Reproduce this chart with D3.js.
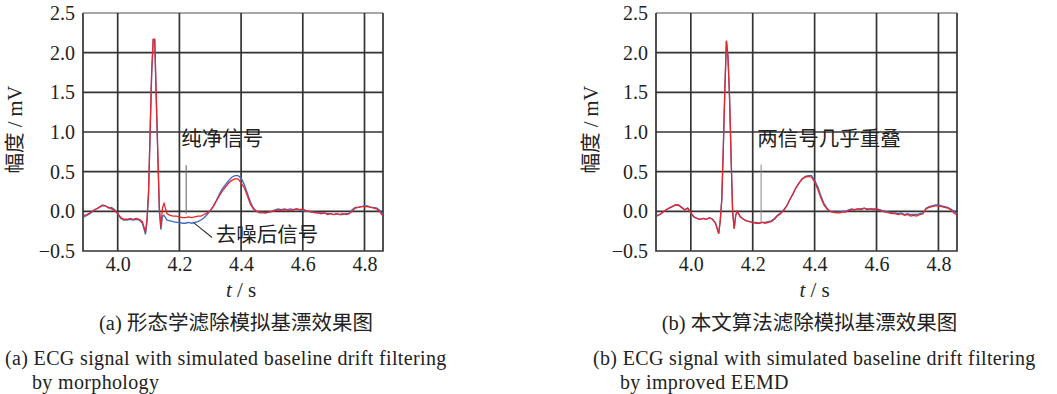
<!DOCTYPE html>
<html><head><meta charset="utf-8">
<script src="https://cdn.jsdelivr.net/npm/d3@7"></script>
<style>body{margin:0;background:#fff}</style>
</head><body>
<svg id="c" width="1057" height="394"></svg>
<script>
const time = [3.89,3.90,3.91,3.92,3.93,3.94,3.95,3.96,3.97,3.98,3.99,4.00,4.01,4.02,4.03,4.04,4.05,4.06,4.07,4.08,4.09,
4.095,4.10,4.105,4.11,4.115,4.12,4.125,4.13,4.135,4.14,4.145,4.15,
4.16,4.17,4.18,4.19,4.20,4.21,4.22,4.23,4.24,4.25,4.26,4.27,4.28,4.29,
4.30,4.31,4.32,4.33,4.34,4.35,4.36,4.37,4.38,4.39,4.40,4.41,4.42,4.43,4.44,4.45,
4.46,4.47,4.48,4.49,4.50,4.51,4.52,4.53,4.54,4.55,
4.56,4.57,4.58,4.59,4.60,4.61,4.62,4.63,4.64,4.65,
4.66,4.67,4.68,4.69,4.70,4.71,4.72,4.73,4.74,4.75,
4.76,4.77,4.78,4.79,4.80,4.81,4.82,4.83,4.84,4.85,4.86];

const leftClean = [-0.05,-0.04,-0.02,0.01,0.03,0.05,0.07,0.07,0.05,0.03,0.01,-0.03,-0.08,-0.10,-0.10,-0.09,-0.10,-0.09,-0.10,-0.13,-0.26,
-0.10,0.25,1.00,1.75,2.17,2.17,1.45,0.75,0.05,-0.20,0.04,0.10,
-0.03,-0.05,-0.06,-0.06,-0.07,-0.08,-0.08,-0.07,-0.08,-0.07,-0.06,-0.06,-0.04,-0.02,
0.01,0.06,0.13,0.20,0.26,0.31,0.36,0.39,0.41,0.41,0.36,0.30,0.20,0.09,0.03,0.00,
-0.01,-0.01,-0.02,-0.01,0.00,0.01,0.02,0.01,0.02,0.02,
0.01,0.02,0.03,0.02,0.03,0.01,0.00,-0.01,-0.02,-0.02,
-0.03,-0.02,-0.04,-0.03,-0.04,-0.03,-0.04,-0.03,-0.04,-0.03,
0.00,0.04,0.05,0.06,0.06,0.06,0.05,0.04,0.03,-0.01,-0.06];

const leftDenoised = [-0.07,-0.05,-0.03,0.00,0.03,0.05,0.08,0.07,0.04,0.05,0.02,-0.03,-0.09,-0.11,-0.11,-0.10,-0.11,-0.10,-0.11,-0.15,-0.29,
-0.12,0.22,0.97,1.72,2.16,2.15,1.40,0.70,0.00,-0.23,-0.06,-0.05,
-0.11,-0.12,-0.13,-0.14,-0.14,-0.15,-0.15,-0.14,-0.15,-0.14,-0.13,-0.11,-0.08,-0.04,
0.01,0.07,0.14,0.22,0.29,0.34,0.39,0.43,0.45,0.45,0.42,0.34,0.23,0.12,0.04,0.00,
-0.02,-0.02,-0.02,-0.01,0.00,0.02,0.03,0.02,0.03,0.02,
0.03,0.02,0.03,0.02,0.01,0.00,0.00,-0.01,-0.01,-0.02,
-0.02,-0.02,-0.03,-0.03,-0.04,-0.03,-0.04,-0.04,-0.03,-0.03,
0.02,0.05,0.05,0.06,0.07,0.07,0.05,0.05,0.04,0.01,-0.04];

const rightClean = [-0.05,-0.04,-0.01,0.02,0.04,0.06,0.08,0.08,0.05,0.02,0.04,-0.02,-0.07,-0.09,-0.10,-0.09,-0.10,-0.08,-0.10,-0.15,-0.28,
-0.12,0.15,0.80,1.55,2.15,1.95,1.45,0.70,0.00,-0.22,-0.05,0.00,
-0.07,-0.10,-0.12,-0.13,-0.14,-0.15,-0.15,-0.14,-0.15,-0.14,-0.13,-0.10,-0.06,-0.03,
0.01,0.07,0.15,0.22,0.30,0.36,0.41,0.43,0.44,0.43,0.37,0.28,0.17,0.08,0.03,0.00,
-0.01,-0.02,-0.02,-0.01,-0.01,0.01,0.02,0.02,0.03,0.02,
0.04,0.02,0.03,0.02,0.03,0.01,0.00,-0.01,-0.02,-0.03,
-0.03,-0.04,-0.03,-0.05,-0.04,-0.06,-0.05,-0.06,-0.04,-0.03,
0.03,0.05,0.06,0.07,0.07,0.06,0.05,0.04,0.02,-0.02,-0.05];

const rightDenoised = [-0.06,-0.04,-0.01,0.02,0.04,0.06,0.08,0.08,0.05,0.02,0.04,-0.02,-0.07,-0.09,-0.10,-0.09,-0.10,-0.08,-0.10,-0.15,-0.28,
-0.12,0.15,0.80,1.55,2.15,1.95,1.45,0.70,0.00,-0.22,-0.05,0.00,
-0.07,-0.10,-0.12,-0.13,-0.14,-0.14,-0.15,-0.14,-0.14,-0.13,-0.12,-0.09,-0.05,-0.02,
0.02,0.07,0.15,0.22,0.30,0.36,0.41,0.44,0.45,0.45,0.39,0.31,0.20,0.10,0.04,0.00,
-0.01,-0.01,-0.01,0.00,0.00,0.02,0.03,0.02,0.03,0.03,
0.04,0.03,0.03,0.03,0.03,0.02,0.01,0.00,-0.01,-0.02,
-0.02,-0.03,-0.02,-0.04,-0.03,-0.04,-0.04,-0.04,-0.03,-0.02,
0.04,0.06,0.07,0.08,0.08,0.07,0.06,0.05,0.03,0.00,-0.03];

const xTicks = [4.0, 4.2, 4.4, 4.6, 4.8];
const yTicks = [-0.5, 0.0, 0.5, 1.0, 1.5, 2.0, 2.5];
const xDomain = [3.8875, 4.86];
const yDomain = [-0.5, 2.5];
const xLabel = "t / s";
const yLabel = "幅度 / mV";
const titlesCN = ["(a) 形态学滤除模拟基漂效果图", "(b) 本文算法滤除模拟基漂效果图"];
const titlesEN1 = ["(a) ECG signal with simulated baseline drift filtering", "(b) ECG signal with simulated baseline drift filtering"];
const titlesEN2 = ["by morphology", "by improved EEMD"];

const SERIF = "'Liberation Serif','Times New Roman',serif";
const MIX = "'Liberation Serif','Noto Sans CJK SC',serif";
const CJK = "'Noto Sans CJK SC','Liberation Serif',sans-serif";
const RED = "#e8252c", BLUE = "#3b69c6", GRID = "#333333";

const svg = d3.select("#c");
svg.append("rect").attr("width",1057).attr("height",394).attr("fill","#fff");

const panels = [
  {left:83, width:300, clean:leftClean, den:leftDenoised, cap:0, ylabX:15, enX:5, en2X:32},
  {left:656, width:301, clean:rightClean, den:rightDenoised, cap:1, ylabX:591, enX:593, en2X:620}
];
const plotTop = 13, plotBottom = 251;

panels.forEach((p, i) => {
  const x = d3.scaleLinear().domain(xDomain).range([p.left, p.left + p.width]);
  const y = d3.scaleLinear().domain(yDomain).range([plotBottom, plotTop]);
  const g = svg.append("g");

  g.append("g").selectAll("line").data(yTicks.slice(1)).join("line")
    .attr("x1", p.left).attr("x2", p.left + p.width)
    .attr("y1", d => y(d)).attr("y2", d => y(d))
    .attr("stroke", d => d === 2.5 ? "#8a8a8a" : GRID).attr("stroke-width", 1.7);
  g.append("g").selectAll("line").data(xTicks).join("line")
    .attr("x1", d => x(d)).attr("x2", d => x(d))
    .attr("y1", plotTop).attr("y2", plotBottom)
    .attr("stroke", GRID).attr("stroke-width", 1.7);
  g.append("path")
    .attr("d", `M${p.left},${plotTop}V${plotBottom}H${p.left+p.width}V${plotTop}`)
    .attr("fill","none").attr("stroke", GRID).attr("stroke-width", 1.7);

  const yAxis = d3.axisLeft(y).tickValues(yTicks).tickSize(0).tickPadding(8)
    .tickFormat(d => (d < 0 ? "\u2212" : "") + Math.abs(d).toFixed(1));
  const ya = g.append("g").attr("transform", `translate(${p.left},0)`).call(yAxis);
  ya.select(".domain").remove();
  ya.attr("font-family", SERIF).attr("font-size", 20);
  ya.selectAll("text").attr("fill", "#222");

  const xAxis = d3.axisBottom(x).tickValues(xTicks).tickSize(0).tickPadding(6)
    .tickFormat(d3.format(".1f"));
  const xa = g.append("g").attr("transform", `translate(0,${plotBottom})`).call(xAxis);
  xa.select(".domain").remove();
  xa.attr("font-family", SERIF).attr("font-size", 20);
  xa.selectAll("text").attr("fill", "#222");

  const xt = g.append("text").attr("x", x(4.40)).attr("y", 297)
    .attr("text-anchor", "middle").attr("font-family", SERIF).attr("font-size", 21).attr("fill", "#222");
  xt.append("tspan").attr("font-style", "italic").text(xLabel.split(" ")[0]);
  xt.append("tspan").text(" " + xLabel.split(" ").slice(1).join(" "));

  g.append("text").attr("transform", `translate(${p.ylabX + 7},${y(1.03)}) rotate(-90)`)
    .attr("text-anchor", "middle").attr("font-family", MIX).attr("font-size", 20.5).attr("fill", "#222")
    .text(yLabel);

  const clipId = "clip" + i;
  svg.append("clipPath").attr("id", clipId).append("rect")
    .attr("x", p.left).attr("y", plotTop).attr("width", p.width).attr("height", plotBottom - plotTop);
  const line = d3.line().x((d, k) => x(time[k])).y(d => y(d));
  g.append("path").datum(p.den).attr("d", line).attr("fill", "none")
    .attr("stroke", BLUE).attr("stroke-width", 1.3).attr("clip-path", `url(#${clipId})`);
  g.append("path").datum(p.clean).attr("d", line).attr("fill", "none")
    .attr("stroke", RED).attr("stroke-width", 1.3).attr("clip-path", `url(#${clipId})`);

  if (i === 0) {
    g.append("line").attr("x1", x(4.222)).attr("x2", x(4.222)).attr("y1", y(0.58)).attr("y2", y(-0.03))
      .attr("stroke", "#777").attr("stroke-width", 1.2);
    g.append("text").attr("x", x(4.206)).attr("y", y(0.82)).attr("font-family", CJK)
      .attr("font-size", 20.5).attr("fill", "#222").text("纯净信号");
    g.append("line").attr("x1", x(4.245)).attr("y1", y(-0.14)).attr("x2", x(4.306)).attr("y2", y(-0.33))
      .attr("stroke", "#333").attr("stroke-width", 1.1);
    g.append("text").attr("x", x(4.318)).attr("y", y(-0.39)).attr("font-family", CJK)
      .attr("font-size", 20.5).attr("fill", "#222").text("去噪后信号");
  } else {
    g.append("line").attr("x1", x(4.227)).attr("x2", x(4.227)).attr("y1", y(0.59)).attr("y2", y(-0.14))
      .attr("stroke", "#888").attr("stroke-width", 1.0);
    g.append("text").attr("x", x(4.215)).attr("y", y(0.82)).attr("font-family", CJK)
      .attr("font-size", 20.5).attr("fill", "#222").text("两信号几乎重叠");
  }

  const cx = p.left + p.width / 2 + 3;
  g.append("text").attr("x", cx).attr("y", 330).attr("text-anchor", "middle")
    .attr("font-family", MIX).attr("font-size", 20.5).attr("fill", "#222").text(titlesCN[p.cap]);
  g.append("text").attr("x", p.enX).attr("y", 365)
    .attr("font-family", SERIF).attr("font-size", 20).attr("letter-spacing", 0.35)
    .attr("fill", "#222").text(titlesEN1[p.cap]);
  g.append("text").attr("x", p.en2X).attr("y", 388.5)
    .attr("font-family", SERIF).attr("font-size", 20).attr("letter-spacing", 0.35)
    .attr("fill", "#222").text(titlesEN2[p.cap]);
});
</script>
</body></html>
